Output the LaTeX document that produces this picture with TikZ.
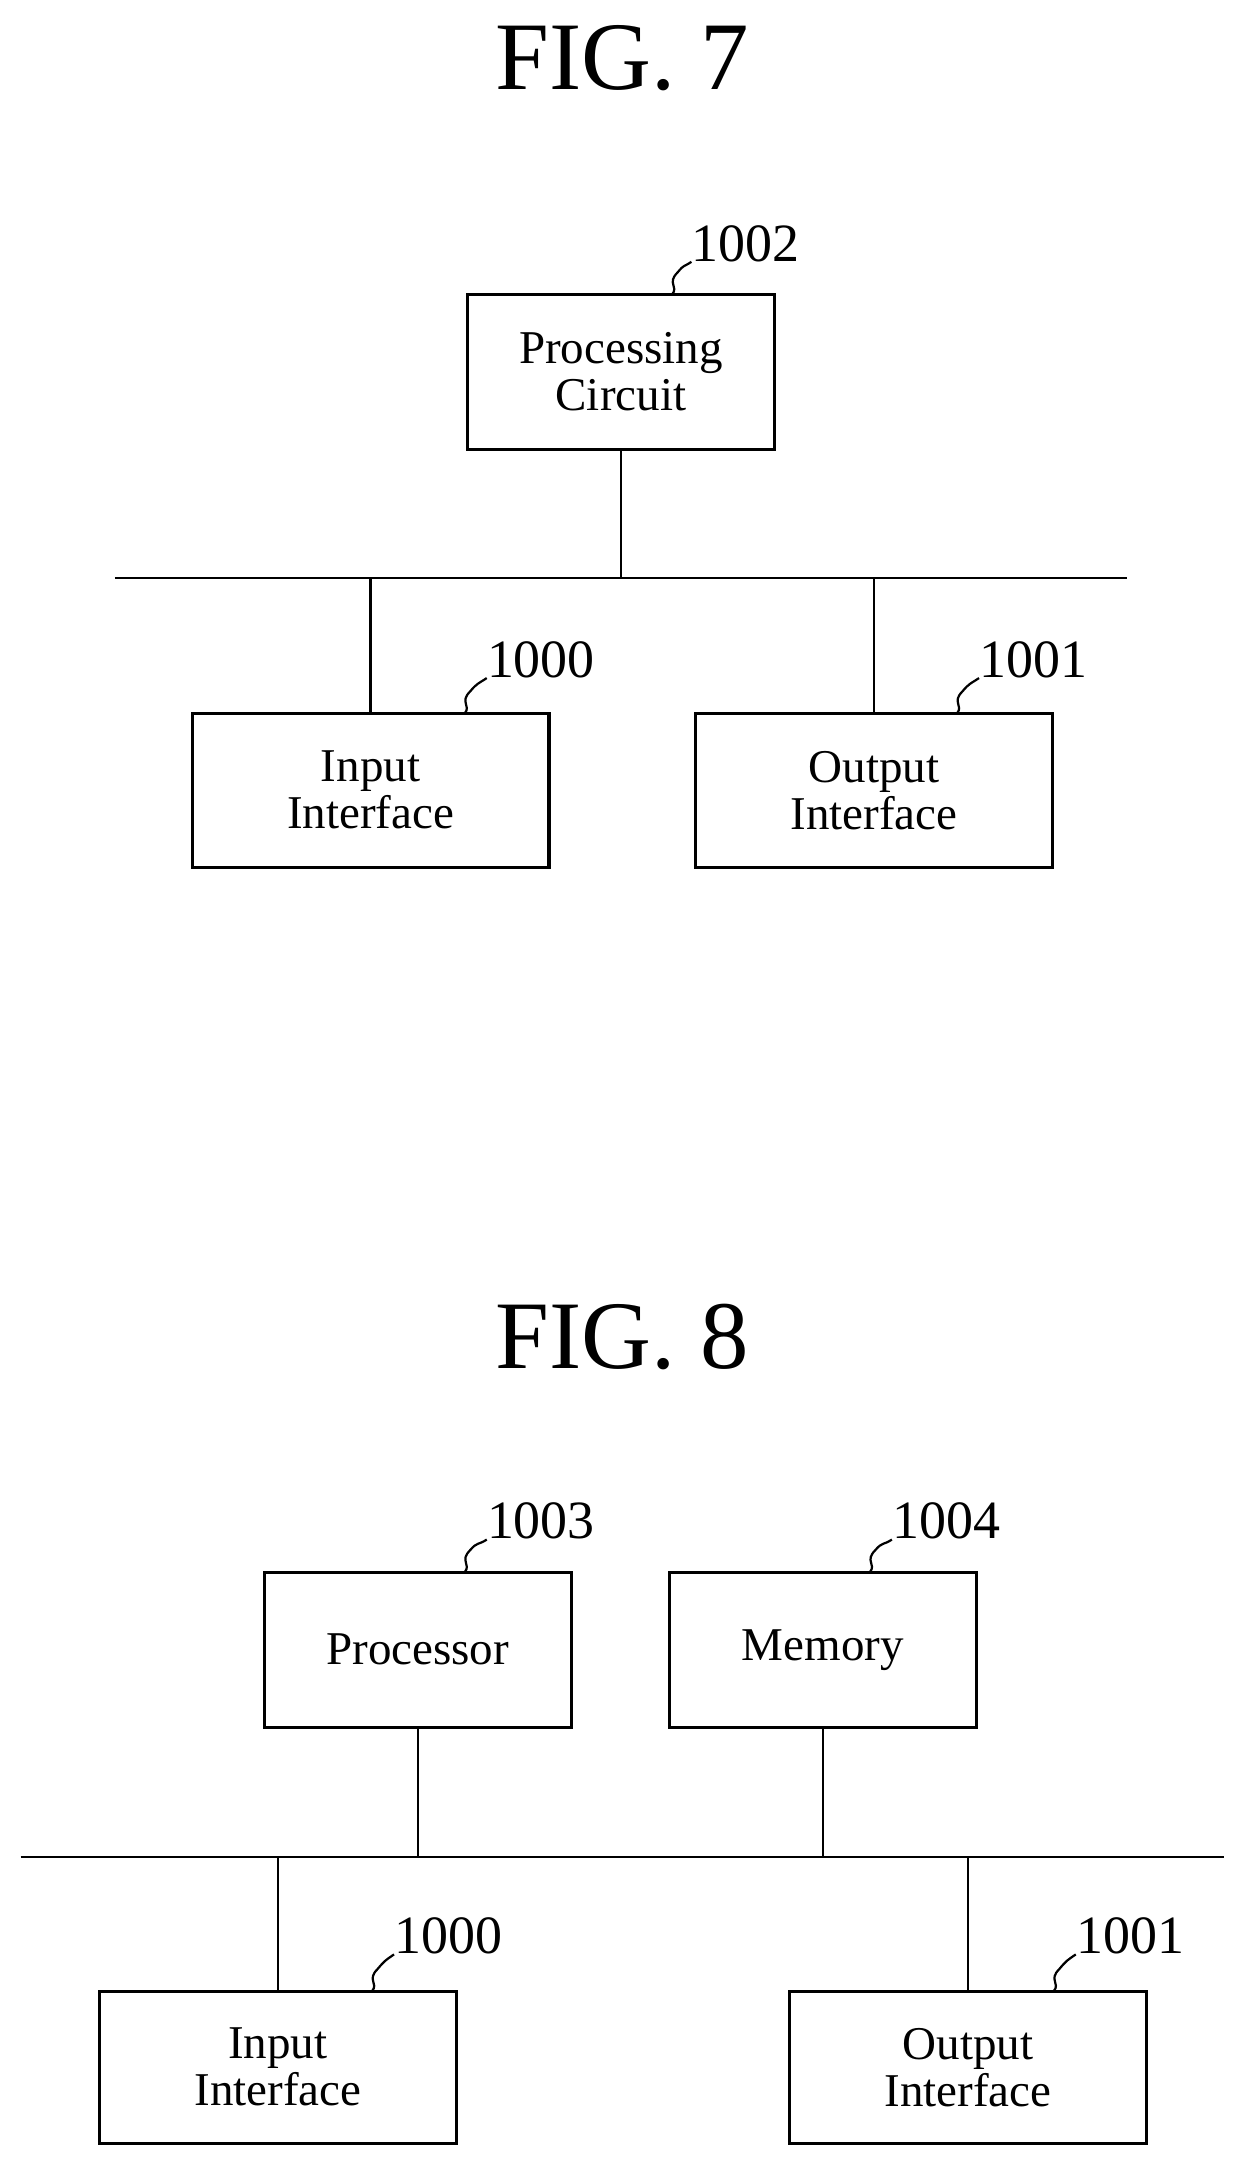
\documentclass[tikz,border=0pt]{standalone}
\usepackage{fontspec}
\setmainfont{Liberation Serif}
\begin{document}
\begin{tikzpicture}[x=1pt,y=-1pt,
  box/.style={draw,line width=2.2pt,inner sep=0pt,font=\fontsize{34}{38}\selectfont,align=center},
  num/.style={font=\fontsize{39}{42}\selectfont,anchor=west,inner sep=0pt},
  ln/.style={line width=1.6pt},
  title/.style={font=\fontsize{70}{80}\selectfont}]
\useasboundingbox (0,0) rectangle (900,1570);
\newcommand{\bx}[5]{\node[box,minimum width=#4-#2,minimum height=#5-#3] (#1) at ({(#2+#4)/2},{(#3+#5)/2}) {};}
\newcommand{\squig}[2]{%
  \draw[ln] (#1) .. controls ++(5,-6) and ++(-8,8) .. ++(4,-16) .. controls ++(5,-6) and ++(-6,4) .. (#2.south west);}
% FIG 7
\node[title] (t7) at (450,42) {FIG. 7};
\bx{b2}{338}{213}{560}{325}
\node[box,draw=none] at (b2) {Processing\\[-4pt]Circuit};
\bx{b0}{139}{516}{397}{627}
\node[box,draw=none] at (b0) {Input\\[-4pt]Interface};
\bx{b1}{503}{516}{761}{627}
\node[box,draw=none] at (b1) {Output\\[-4pt]Interface};
\coordinate (busL) at (83,418); \coordinate (busR) at (815,418);
\draw[ln] (busL) -- (busR);
\draw[ln] (b2.south) -- (b2.south |- busL);
\draw[ln] (b0.north) -- (b0.north |- busL);
\draw[ln] (b1.north) -- (b1.north |- busL);
\node[num] (n2) at (500,176) {1002};
\node[num] (n0) at (352,477) {1000};
\node[num] (n1) at (708,477) {1001};
\coordinate (s2) at (486,213); \squig{s2}{n2}
\coordinate (s0) at (336,516); \squig{s0}{n0}
\coordinate (s1) at (692,516); \squig{s1}{n1}
% FIG 8
\node[title] (t8) at (450,967) {FIG. 8};
\bx{c3}{191}{1137}{413}{1249}
\node[box,draw=none] at (c3) {Processor};
\bx{c4}{484}{1137}{706}{1249}
\node[box,draw=none] at (c4) {Memory};
\bx{c0}{72}{1440}{330}{1550}
\node[box,draw=none] at (c0) {Input\\[-4pt]Interface};
\bx{c1}{571}{1440}{829}{1550}
\node[box,draw=none] at (c1) {Output\\[-4pt]Interface};
\coordinate (bus2L) at (15,1343); \coordinate (bus2R) at (885,1343);
\draw[ln] (bus2L) -- (bus2R);
\draw[ln] (c3.south) -- (c3.south |- bus2L);
\draw[ln] (c4.south) -- (c4.south |- bus2L);
\draw[ln] (201,1343) -- (201,1440);
\draw[ln] (700,1343) -- (700,1440);
\node[num] (n3) at (352,1100) {1003};
\node[num] (n4) at (645,1100) {1004};
\node[num] (m0) at (285,1400) {1000};
\node[num] (m1) at (778,1400) {1001};
\coordinate (s3) at (336,1137); \squig{s3}{n3}
\coordinate (s4) at (629,1137); \squig{s4}{n4}
\coordinate (t0) at (269,1440); \squig{t0}{m0}
\coordinate (t1) at (762,1440); \squig{t1}{m1}
\end{tikzpicture}
\end{document}
